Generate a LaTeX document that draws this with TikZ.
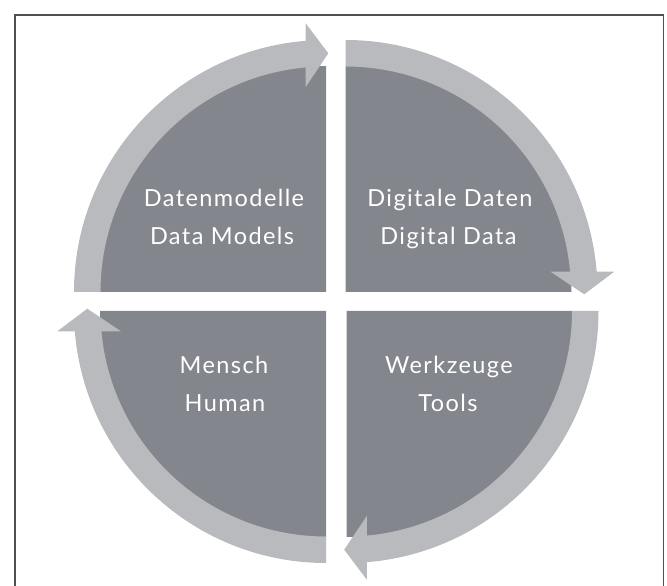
\documentclass[tikz,border=0pt]{standalone}
\usepackage{fontspec}
\setmainfont{Lato}[LetterSpace=6]
\definecolor{sectorgray}{HTML}{84868D}
\definecolor{ringgray}{HTML}{B9BABE}
\definecolor{framegray}{HTML}{505050}

% One quarter of the cycle: dark sector plus the light ring segment
% ending in an arrow head; #1 = corner coordinate, #2 = rotation.
\newcommand\cyclequarter[2]{%
  \begin{scope}[shift={(#1)}, rotate=#2]
    \fill[sectorfill] (0,0) -- (180:226) arc[start angle=180, end angle=90, radius=226] -- cycle;
    \fill[ringfill] (180:252) arc[start angle=180, end angle=94.62, radius=252]
      -- (-20.3,268.7) -- (2.3,238.7) -- (-20.3,205)
      -- (95.16:225.5) arc[start angle=95.16, end angle=180, radius=225.5] -- cycle;
  \end{scope}}

\begin{document}
\begin{tikzpicture}[x=1pt, y=1pt,
  sectorfill/.style={fill=sectorgray},
  ringfill/.style={fill=ringgray},
  quadtext/.style={text=white, font=\fontsize{23.5}{28}\selectfont, anchor=base, inner sep=0pt}]
\useasboundingbox (0,0) rectangle (667,586);

% open frame
\draw[framegray, line width=1.5pt] (15,0) -- (15,571) -- (663.3,571) -- (663.3,0);

% quadrant corners
\coordinate (tl) at (326,294);
\coordinate (tr) at (345.5,294);
\coordinate (br) at (346.5,275);
\coordinate (bl) at (326,275);

\cyclequarter{tl}{0}
\cyclequarter{tr}{-90}
\cyclequarter{br}{180}
\cyclequarter{bl}{90}

% labels
\node[quadtext] (dm1) at (224,379.3) {Datenmodelle};
\node[quadtext] (dm2) at (222,341) {Data Models};
\node[quadtext] (dd1) at (450,379.3) {Digitale Daten};
\node[quadtext] (dd2) at (448.5,341) {Digital Data};
\node[quadtext] (me1) at (224,212.7) {Mensch};
\node[quadtext] (me2) at (225,174.3) {Human};
\node[quadtext] (wz1) at (449,212.7) {Werkzeuge};
\node[quadtext] (wz2) at (448,174.3) {Tools};
\end{tikzpicture}
\end{document}
